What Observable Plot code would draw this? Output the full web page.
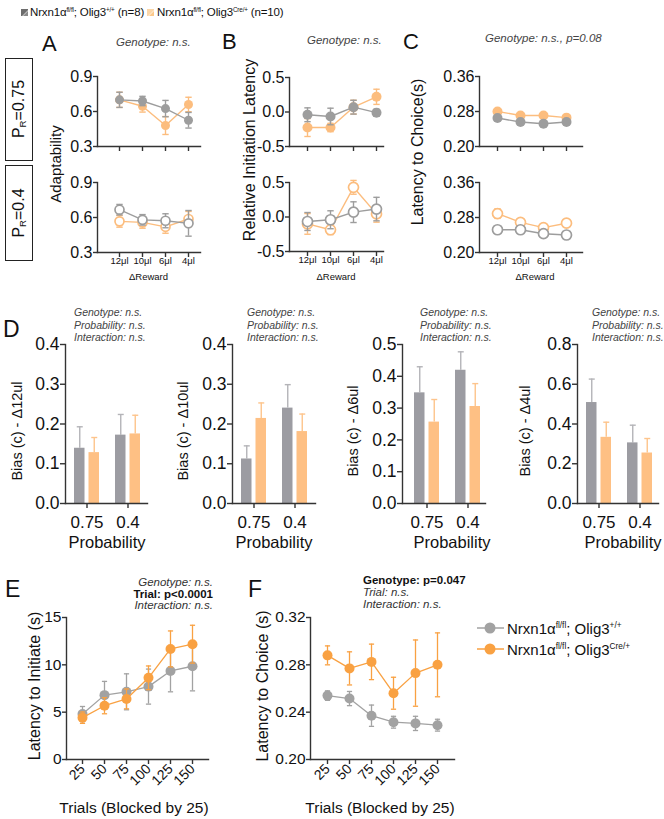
<!DOCTYPE html>
<html><head><meta charset="utf-8">
<script src="https://cdn.jsdelivr.net/npm/d3@7"></script>
<script src="https://cdn.jsdelivr.net/npm/@observablehq/plot@0.6"></script>
<style>
body{margin:0;background:#fff;}
#fig{position:relative;width:664px;height:819px;overflow:hidden;background:#fff;font-family:"Liberation Sans",Arial,Helvetica,sans-serif;color:#111;}
.abs{position:absolute;white-space:nowrap;}
sup{font-size:0.55em;vertical-align:0.7em;line-height:0;}
sub{font-size:0.6em;vertical-align:-0.25em;line-height:0;}
</style></head><body><div id="fig"></div>
<script>
// ---------------- DATA ----------------
const rewards = ["12μl","10μl","6μl","4μl"];
const probabilities = ["0.75","0.4"];
const trialBlocks = [25,50,75,100,125,150];
const groupNames = ["Nrxn1α<sup>fl/fl</sup>; Olig3<sup>+/+</sup>", "Nrxn1α<sup>fl/fl</sup>; Olig3<sup>Cre/+</sup>"];
const groupN = ["(n=8)", "(n=10)"];

// A: Adaptability (PR=0.75 top, PR=0.4 bottom)
const adaptHighCtrl = [0.70, 0.69, 0.625, 0.525];
const adaptHighCtrlErr = [0.065, 0.04, 0.07, 0.067];
const adaptHighCko = [0.70, 0.645, 0.48, 0.66];
const adaptHighCkoErr = [0.065, 0.05, 0.077, 0.062];
const adaptLowCtrl = [0.667, 0.58, 0.572, 0.55];
const adaptLowCtrlErr = [0.045, 0.045, 0.06, 0.11];
const adaptLowCko = [0.567, 0.558, 0.52, 0.587];
const adaptLowCkoErr = [0.05, 0.05, 0.055, 0.065];

// B: Relative initiation latency
const initHighCtrl = [-0.04, -0.065, 0.07, -0.01];
const initHighCtrlErr = [0.10, 0.12, 0.10, 0.05];
const initHighCko = [-0.225, -0.225, 0.07, 0.22];
const initHighCkoErr = [0.13, 0.06, 0.10, 0.11];
const initLowCtrl = [-0.065, -0.04, 0.07, 0.115];
const initLowCtrlErr = [0.13, 0.13, 0.15, 0.17];
const initLowCko = [-0.10, -0.185, 0.43, 0.045];
const initLowCkoErr = [0.15, 0.07, 0.10, 0.12];

// C: Latency to choice
const choiceHighCtrl = [0.265, 0.256, 0.252, 0.256];
const choiceHighCtrlErr = [0.005, 0.005, 0.005, 0.005];
const choiceHighCko = [0.280, 0.271, 0.271, 0.266];
const choiceHighCkoErr = [0.005, 0.005, 0.006, 0.005];
const choiceLowCtrl = [0.252, 0.252, 0.243, 0.240];
const choiceLowCtrlErr = [0.004, 0.004, 0.004, 0.004];
const choiceLowCko = [0.289, 0.269, 0.257, 0.267];
const choiceLowCkoErr = [0.011, 0.004, 0.004, 0.004];

// D: Bias (c)
const bias12Ctrl = [0.139, 0.172], bias12CtrlErr = [0.054, 0.052];
const bias12Cko = [0.128, 0.175], bias12CkoErr = [0.038, 0.047];
const bias10Ctrl = [0.112, 0.240], bias10CtrlErr = [0.033, 0.059];
const bias10Cko = [0.214, 0.181], bias10CkoErr = [0.039, 0.044];
const bias6Ctrl = [0.348, 0.419], bias6CtrlErr = [0.082, 0.058];
const bias6Cko = [0.256, 0.305], bias6CkoErr = [0.071, 0.072];
const bias4Ctrl = [0.508, 0.305], bias4CtrlErr = [0.118, 0.089];
const bias4Cko = [0.333, 0.254], bias4CkoErr = [0.076, 0.073];

// E: Latency to initiate
const initLatCtrl = [4.8, 6.8, 7.15, 7.7, 9.35, 9.85];
const initLatCtrlErr = [0.8, 1.45, 1.9, 1.85, 2.2, 2.6];
const initLatCko = [4.42, 5.68, 6.4, 8.63, 11.68, 12.18];
const initLatCkoErr = [0.6, 0.85, 1.05, 1.25, 1.9, 2.0];

// F: Latency to choice by trial
const choiceLatCtrl = [0.254, 0.2515, 0.237, 0.2315, 0.2305, 0.229];
const choiceLatCtrlErr = [0.004, 0.006, 0.009, 0.005, 0.006, 0.005];
const choiceLatCko = [0.288, 0.277, 0.2825, 0.256, 0.273, 0.280];
const choiceLatCkoErr = [0.008, 0.014, 0.015, 0.0135, 0.028, 0.027];

// ---------------- STYLE ----------------
const AX = "#333";
const FONT = '"Liberation Sans", Arial, Helvetica, sans-serif';
const GRAY = "#9d9d9d", ORANGE_L = "#fcbd7e";
const GRAY_EF = "#a2a2a2", ORANGE_EF = "#f9a142";
const BAR_GRAY = "#9c9ca2", BAR_OR = "#fec084", ERR_GRAY = "#b4b4b8", ERR_OR = "#fdc48c";

const fig = document.getElementById("fig");
function place(node, left, top){ node.style.position="absolute"; node.style.left=left+"px"; node.style.top=top+"px"; fig.appendChild(node); return node; }
function txt(html, x, base, o={}){
  const fs = o.fs||12;
  const d = document.createElement("div");
  d.className="abs"; d.innerHTML = html;
  d.style.fontSize = fs+"px"; d.style.lineHeight = fs+"px";
  d.style.top = (base - 0.846*fs)+"px";
  if (o.align==="right") d.style.right = (664-x)+"px";
  else if (o.align==="center"){ d.style.left = x+"px"; d.style.transform="translateX(-50%)"; }
  else d.style.left = x+"px";
  if (o.italic) d.style.fontStyle="italic";
  if (o.bold) d.style.fontWeight="bold";
  if (o.color) d.style.color=o.color;
  if (o.ls) d.style.letterSpacing=o.ls+"px";
  fig.appendChild(d); return d;
}
function vtxt(html, cx, cy, fs){
  const d = document.createElement("div");
  d.className="abs"; d.innerHTML = html;
  d.style.fontSize = fs+"px"; d.style.lineHeight = fs+"px";
  d.style.left = cx+"px"; d.style.top = cy+"px";
  d.style.transform = "translate(-50%,-50%) rotate(-90deg)";
  fig.appendChild(d); return d;
}
const capSymbol = {draw(ctx, size){ const w = Math.sqrt(size/Math.PI); ctx.moveTo(-w,0); ctx.lineTo(w,0); }};
function rows(cats, vals, errs){ return cats.map((c,i)=>({c, v:vals[i], e:errs[i]})); }
function plotStyle(){ return {fontFamily: FONT, color: "#111", background: "transparent", overflow: "visible"}; }
function margins(o){
  return {width:o.width, height:o.height, marginLeft:o.fx1-o.left, marginRight:o.left+o.width-o.fx2,
          marginTop:o.fy1-o.top, marginBottom:o.top+o.height-o.fy2};
}
function seriesMarks(data, color, {filled=true, r=4.5, cap=3.2, lw=1.4} = {}){
  return [
    Plot.ruleX(data, {x:"c", y1:d=>d.v-d.e, y2:d=>d.v+d.e, stroke:color, strokeWidth:lw}),
    Plot.dot(data, {x:"c", y:d=>d.v+d.e, symbol:capSymbol, r:cap, fill:"none", stroke:color, strokeWidth:lw}),
    Plot.dot(data, {x:"c", y:d=>d.v-d.e, symbol:capSymbol, r:cap, fill:"none", stroke:color, strokeWidth:lw}),
    Plot.line(data, {x:"c", y:"v", stroke:color, strokeWidth:lw}),
    filled ? Plot.dot(data, {x:"c", y:"v", r, fill:color, stroke:"none"})
           : Plot.dot(data, {x:"c", y:"v", r, fill:"white", stroke:color, strokeWidth:1.7})
  ];
}
function axesMarks(o){
  return [
    Plot.frame({anchor:"left", stroke:AX, strokeWidth:1.4}),
    Plot.frame({anchor:"bottom", stroke:AX, strokeWidth:1.4}),
    Plot.axisY({ticks:o.yTicks, tickFormat:o.yFormat, tickSize:o.ytSize||4, tickPadding:1, fontSize:o.yfs||16, label:null, stroke:AX, strokeWidth:1.4}),
    Plot.axisX({ticks:o.xTicks, tickSize:5, tickPadding:o.xPad??0, fontSize:o.xfs||9.5, label:null, stroke:AX, strokeWidth:1.4,
      tickRotate:o.tickRotate||0, tickFormat:o.showX===false ? ()=>"" : (d=>String(d))})
  ];
}

// ---------------- TOP LEGEND ----------------
(function(){
  const sq = (x, bg)=>{ const d=document.createElement("div"); d.className="abs";
    Object.assign(d.style,{left:x+"px",top:"9px",width:"7px",height:"7px",background:bg}); fig.appendChild(d); };
  sq(21, "linear-gradient(135deg,#6d6d6d 0%,#6d6d6d 55%,#d8d8d8 60%,#8a8a8a 70%)");
  sq(147, "linear-gradient(135deg,#fbd6a8 0%,#fbd6a8 55%,#fff0dd 60%,#fbc98c 70%)");
  txt(groupNames[0]+" "+groupN[0], 30, 17, {fs:11.5, ls:-0.15});
  txt(groupNames[1]+" "+groupN[1], 157, 17, {fs:11.5, ls:-0.15});
})();

// ---------------- PANELS A-C ----------------
function linePanel(o){
  const m = margins(o);
  const p = Plot.plot({
    ...m, style: plotStyle(),
    x: {type:"point", domain: rewards, range:[o.xr[0]-o.left, o.xr[1]-o.left], padding:0},
    y: {domain: o.yDomain},
    marks: [
      ...axesMarks(o),
      ...seriesMarks(rows(rewards, o.cko, o.ckoErr), ORANGE_L, {filled:o.filled, r:o.r}),
      ...seriesMarks(rows(rewards, o.ctrl, o.ctrlErr), GRAY, {filled:o.filled, r:o.r})
    ]
  });
  place(p, o.left, o.top);
}
const f1 = d=>d.toFixed(1), f2 = d=>d.toFixed(2);
// A
const Ageo = {left:60, width:150, fx1:97, fx2:200, xr:[118,188], yDomain:[0.3,0.9], yTicks:[0.3,0.6,0.9], yFormat:f1, r:4.5};
linePanel({...Ageo, top:60, height:100, fy1:76, fy2:146, showX:false, filled:true,
  ctrl:adaptHighCtrl, ctrlErr:adaptHighCtrlErr, cko:adaptHighCko, ckoErr:adaptHighCkoErr});
linePanel({...Ageo, top:166, height:110, fy1:182, fy2:252, showX:true, filled:false,
  ctrl:adaptLowCtrl, ctrlErr:adaptLowCtrlErr, cko:adaptLowCko, ckoErr:adaptLowCkoErr});
// B
const Bgeo = {left:250, width:145, fx1:289, fx2:383, xr:[306,377], yDomain:[-0.5,0.5], yTicks:[-0.5,0,0.5], yFormat:f1, r:5};
linePanel({...Bgeo, top:60, height:100, fy1:77, fy2:146, showX:false, filled:true,
  ctrl:initHighCtrl, ctrlErr:initHighCtrlErr, cko:initHighCko, ckoErr:initHighCkoErr});
linePanel({...Bgeo, top:166, height:110, fy1:182, fy2:251, showX:true, filled:false,
  ctrl:initLowCtrl, ctrlErr:initLowCtrlErr, cko:initLowCko, ckoErr:initLowCkoErr});
// C
const Cgeo = {left:430, width:165, fx1:479, fx2:582, xr:[497,566], yDomain:[0.20,0.36], yTicks:[0.20,0.28,0.36], yFormat:f2, r:5};
linePanel({...Cgeo, top:60, height:100, fy1:76, fy2:146, showX:false, filled:true,
  ctrl:choiceHighCtrl, ctrlErr:choiceHighCtrlErr, cko:choiceHighCko, ckoErr:choiceHighCkoErr});
linePanel({...Cgeo, top:166, height:110, fy1:182, fy2:252, showX:true, filled:false,
  ctrl:choiceLowCtrl, ctrlErr:choiceLowCtrlErr, cko:choiceLowCko, ckoErr:choiceLowCkoErr});

// labels A-C
txt("A", 42, 52, {fs:22}); txt("B", 222, 50, {fs:22}); txt("C", 403, 50, {fs:22});
txt("Genotype: n.s.", 116, 47, {fs:11.5, italic:true, color:"#444"});
txt("Genotype: n.s.", 307, 45, {fs:11.5, italic:true, color:"#444"});
txt("Genotype: n.s., p=0.08", 485, 43, {fs:11.5, italic:true, color:"#444"});
vtxt("Adaptability", 55, 164, 15);
vtxt("Relative Initiation Latency", 250, 150, 16);
vtxt("Latency to Choice(s)", 418, 152, 16);
txt("ΔReward", 148.5, 280, {fs:9.5, align:"center"});
txt("ΔReward", 336, 280, {fs:9.5, align:"center"});
txt("ΔReward", 535, 280, {fs:9.5, align:"center"});
// PR boxes
[[58,160,"P<sub>R</sub>=0.75"],[165,260,"P<sub>R</sub>=0.4"]].forEach(([y1,y2,t])=>{
  const b=document.createElement("div"); b.className="abs";
  Object.assign(b.style,{left:"5px",top:y1+"px",width:"26px",height:(y2-y1-1)+"px",border:"1px solid #222"});
  fig.appendChild(b);
  vtxt(t, 18.5, (y1+y2)/2, 16);
});

// ---------------- PANEL D ----------------
function barPanel(o){
  const m = margins(o);
  const ctrl = rows(probabilities, o.ctrl, o.ctrlErr), cko = rows(probabilities, o.cko, o.ckoErr);
  const half = 7.25, ins = 14.5;
  const p = Plot.plot({
    ...m, style: plotStyle(),
    x: {type:"band", domain: probabilities, range:[o.br[0]-o.left, o.br[1]-o.left], paddingInner:0.38, paddingOuter:0},
    y: {domain:[0, o.yMax]},
    marks: [
      Plot.ruleX(ctrl, {x:"c", y1:"v", y2:d=>d.v+d.e, dx:-half, stroke:ERR_GRAY, strokeWidth:1.4}),
      Plot.dot(ctrl, {x:"c", y:d=>d.v+d.e, dx:-half, symbol:capSymbol, r:3, fill:"none", stroke:ERR_GRAY, strokeWidth:1.4}),
      Plot.ruleX(cko, {x:"c", y1:"v", y2:d=>d.v+d.e, dx:half, stroke:ERR_OR, strokeWidth:1.4}),
      Plot.dot(cko, {x:"c", y:d=>d.v+d.e, dx:half, symbol:capSymbol, r:3, fill:"none", stroke:ERR_OR, strokeWidth:1.4}),
      Plot.barY(ctrl, {x:"c", y:"v", fill:BAR_GRAY, insetRight:ins}),
      Plot.barY(cko, {x:"c", y:"v", fill:BAR_OR, insetLeft:ins}),
      ...axesMarks({yTicks:o.yTicks, yFormat:f1, ytSize:5, yfs:17.5, xfs:17, xPad:7})
    ]
  });
  place(p, o.left, o.top);
}
const Dgeo = {top:330, height:230, fy1:344, fy2:503};
barPanel({...Dgeo, left:25, width:130, fx1:65, fx2:147, br:[73,141], yMax:0.4, yTicks:[0,0.1,0.2,0.3,0.4],
  ctrl:bias12Ctrl, ctrlErr:bias12CtrlErr, cko:bias12Cko, ckoErr:bias12CkoErr});
barPanel({...Dgeo, left:192, width:130, fx1:232, fx2:315, br:[240,308], yMax:0.4, yTicks:[0,0.1,0.2,0.3,0.4],
  ctrl:bias10Ctrl, ctrlErr:bias10CtrlErr, cko:bias10Cko, ckoErr:bias10CkoErr});
barPanel({...Dgeo, left:362, width:130, fx1:402, fx2:485, br:[413,481], yMax:0.5, yTicks:[0,0.1,0.2,0.3,0.4,0.5],
  ctrl:bias6Ctrl, ctrlErr:bias6CtrlErr, cko:bias6Cko, ckoErr:bias6CkoErr});
barPanel({...Dgeo, left:537, width:127, fx1:577, fx2:658, br:[585,653], yMax:0.8, yTicks:[0,0.2,0.4,0.6,0.8],
  ctrl:bias4Ctrl, ctrlErr:bias4CtrlErr, cko:bias4Cko, ckoErr:bias4CkoErr});
txt("D", 3, 337, {fs:23});
[[74,"Δ12ul",17,107],[247,"Δ10ul",183,274],[420,"Δ6ul",353,452],[592,"Δ4ul",525,623]].forEach(([sx,lab,yx,px])=>{
  txt("Genotype: n.s.", sx, 316, {fs:10.5, italic:true, color:"#444"});
  txt("Probability: n.s.", sx, 328.5, {fs:10.5, italic:true, color:"#444"});
  txt("Interaction: n.s.", sx, 341, {fs:10.5, italic:true, color:"#444"});
  vtxt("Bias (c) - "+lab, yx, 431, 14.5);
  txt("Probability", px, 548, {fs:16.5, align:"center"});
});

// ---------------- PANELS E & F ----------------
function trialPanel(o){
  const m = margins(o);
  const p = Plot.plot({
    ...m, style: plotStyle(),
    x: {type:"point", domain: trialBlocks, range:[o.xr[0]-o.left, o.xr[1]-o.left], padding:0},
    y: {domain: o.yDomain},
    marks: [
      ...axesMarks({yTicks:o.yTicks, yFormat:o.yFormat, ytSize:4, yfs:15.5, xfs:14, xPad:2, tickRotate:-45}),
      ...seriesMarks(rows(trialBlocks, o.ctrl, o.ctrlErr), GRAY_EF, {filled:true, r:5, cap:2.6, lw:1.3}),
      ...seriesMarks(rows(trialBlocks, o.cko, o.ckoErr), ORANGE_EF, {filled:true, r:5, cap:2.6, lw:1.3})
    ]
  });
  place(p, o.left, o.top);
}
trialPanel({left:25, top:605, width:195, height:210, fx1:66, fx2:208, fy1:617, fy2:759, xr:[81,193],
  yDomain:[0,15], yTicks:[0,5,10,15], yFormat:d=>String(d),
  ctrl:initLatCtrl, ctrlErr:initLatCtrlErr, cko:initLatCko, ckoErr:initLatCkoErr});
trialPanel({left:262, top:605, width:205, height:210, fx1:310, fx2:454, fy1:617, fy2:759, xr:[326,438],
  yDomain:[0.20,0.32], yTicks:[0.20,0.24,0.28,0.32], yFormat:f2,
  ctrl:choiceLatCtrl, ctrlErr:choiceLatCtrlErr, cko:choiceLatCko, ckoErr:choiceLatCkoErr});
txt("E", 5, 597, {fs:23}); txt("F", 248, 597, {fs:23});
txt("Genotype: n.s.", 213, 587, {fs:11.5, italic:true, color:"#333", align:"right"});
txt("Trial: p&lt;0.0001", 213, 598.5, {fs:11.5, bold:true, align:"right"});
txt("Interaction: n.s.", 213, 610, {fs:11.5, italic:true, color:"#333", align:"right"});
txt("Genotype: p=0.047", 363, 585, {fs:11.5, bold:true});
txt("Trial: n.s.", 363, 597, {fs:11.5, italic:true, color:"#333"});
txt("Interaction: n.s.", 363, 609, {fs:11.5, italic:true, color:"#333"});
vtxt("Latency to Initiate (s)", 35, 686, 16);
vtxt("Latency to Choice (s)", 263, 686, 16);
txt("Trials (Blocked by 25)", 134, 813, {fs:15.5, align:"center"});
txt("Trials (Blocked by 25)", 380, 813, {fs:15.5, align:"center"});
// legend F
[[628, GRAY_EF, groupNames[0]],[649, ORANGE_EF, groupNames[1]]].forEach(([cy,col,name])=>{
  const ns="http://www.w3.org/2000/svg";
  const s=document.createElementNS(ns,"svg"); s.setAttribute("width","30"); s.setAttribute("height","14");
  s.innerHTML=`<line x1="1" x2="28" y1="7" y2="7" stroke="${col}" stroke-width="1.5"/><circle cx="14" cy="7" r="5.5" fill="${col}"/>`;
  s.style.position="absolute"; s.style.left="476px"; s.style.top=(cy-7)+"px"; fig.appendChild(s);
  txt(name, 507, cy+5.5, {fs:15});
});
</script></body></html>
